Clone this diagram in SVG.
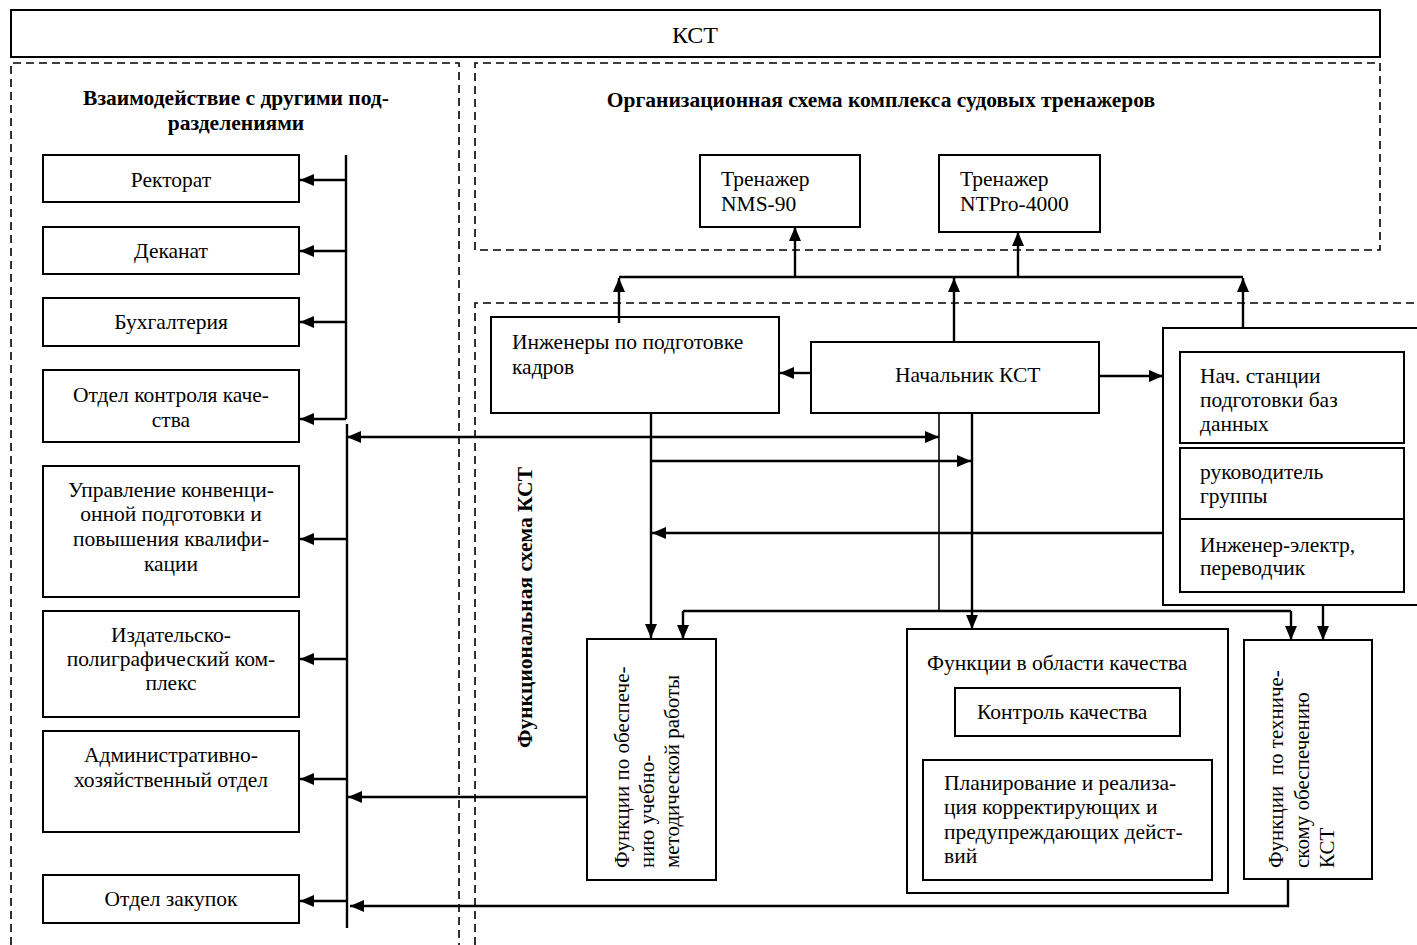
<svg xmlns="http://www.w3.org/2000/svg" width="1417" height="945" viewBox="0 0 1417 945">
<style>
.bx{fill:#fff;stroke:#000;stroke-width:2}
.dsh{fill:none;stroke:#000;stroke-width:1.6;stroke-dasharray:8,5}
.t{font-family:"Liberation Serif","Times New Roman",serif;font-size:21.5px;fill:#000}
.r{font-size:21px}
.c{text-anchor:middle}
.b{font-weight:bold}
.ln{fill:none;stroke:#000;stroke-width:2.4}
.thin{fill:none;stroke:#000;stroke-width:1.6}
.a{marker-end:url(#ah)}
</style>
<defs>
<marker id="ah" viewBox="0 0 14 12" refX="14" refY="6" markerWidth="14" markerHeight="12" markerUnits="userSpaceOnUse" orient="auto-start-reverse">
<path d="M0,0 L14,6 L0,12 z" fill="#000"/>
</marker>
</defs>
<rect width="1417" height="945" fill="#fff"/>

<g id="frames">
<path class="dsh" d="M11,945 V63 H459 V945"/>
<path class="dsh" d="M475,250 V63 H1380 V250 H475"/>
<path class="dsh" d="M475,945 V303 H1417"/>
</g>

<g id="kst-title">
<rect class="bx" x="11" y="10" width="1369" height="47"/>
<text class="t c" x="695" y="43" style="font-size:24px">КСТ</text>
</g>

<g id="left-title">
<text class="t c b" x="236" y="105">Взаимодействие с другими под-</text>
<text class="t c b" x="236" y="130">разделениями</text>
</g>
<g id="org-title">
<text class="t c b" x="881" y="107">Организационная схема комплекса судовых тренажеров</text>
</g>
<g id="func-title">
<text class="t b" transform="translate(532,748) rotate(-90)">Функциональная схема КСТ</text>
</g>

<g id="rektorat"><rect class="bx" x="43" y="155" width="256" height="47"/><text class="t c" x="171" y="187">Ректорат</text></g>
<g id="dekanat"><rect class="bx" x="43" y="227" width="256" height="47"/><text class="t c" x="171" y="258">Деканат</text></g>
<g id="buh"><rect class="bx" x="43" y="298" width="256" height="48"/><text class="t c" x="171" y="329">Бухгалтерия</text></g>
<g id="okk"><rect class="bx" x="43" y="370" width="256" height="72"/><text class="t c" x="171" y="402">Отдел контроля каче-</text><text class="t c" x="171" y="427">ства</text></g>
<g id="ukp"><rect class="bx" x="43" y="466" width="256" height="131"/>
<text class="t c" x="171" y="497">Управление конвенци-</text><text class="t c" x="171" y="521">онной подготовки и</text><text class="t c" x="171" y="546">повышения квалифи-</text><text class="t c" x="171" y="571">кации</text></g>
<g id="ipk"><rect class="bx" x="43" y="611" width="256" height="106"/>
<text class="t c" x="171" y="642">Издательско-</text><text class="t c" x="171" y="666">полиграфический ком-</text><text class="t c" x="171" y="690">плекс</text></g>
<g id="aho"><rect class="bx" x="43" y="731" width="256" height="101"/>
<text class="t c" x="171" y="762">Административно-</text><text class="t c" x="171" y="787">хозяйственный отдел</text></g>
<g id="zakupki"><rect class="bx" x="43" y="875" width="256" height="48"/><text class="t c" x="171" y="906">Отдел закупок</text></g>

<g id="nms90"><rect class="bx" x="700" y="155" width="160" height="72"/>
<text class="t" x="721" y="186">Тренажер</text><text class="t" x="721" y="211">NMS-90</text></g>
<g id="ntpro"><rect class="bx" x="939" y="155" width="161" height="77"/>
<text class="t" x="960" y="186">Тренажер</text><text class="t" x="960" y="211">NTPro-4000</text></g>

<g id="ingenery"><rect class="bx" x="491" y="317" width="288" height="96"/>
<text class="t" x="512" y="349">Инженеры по подготовке</text><text class="t" x="512" y="374">кадров</text></g>
<g id="nachalnik"><rect class="bx" x="811" y="342" width="288" height="71"/>
<text class="t" x="895" y="382">Начальник КСТ</text></g>

<g id="right-group"><rect class="bx" x="1163" y="328" width="260" height="277"/>
<rect class="bx" x="1180" y="352" width="224" height="91"/>
<text class="t" x="1200" y="383">Нач. станции</text><text class="t" x="1200" y="407">подготовки баз</text><text class="t" x="1200" y="431">данных</text>
<rect class="bx" x="1180" y="448" width="224" height="71"/>
<text class="t" x="1200" y="479">руководитель</text><text class="t" x="1200" y="503">группы</text>
<rect class="bx" x="1180" y="519" width="224" height="73"/>
<text class="t" x="1200" y="552">Инженер-электр,</text><text class="t" x="1200" y="575">переводчик</text>
</g>

<g id="umr"><rect class="bx" x="587" y="639" width="129" height="241"/>
<text class="t r" transform="translate(629,868) rotate(-90)">Функции по обеспече-</text>
<text class="t r" transform="translate(654,868) rotate(-90)">нию учебно-</text>
<text class="t r" transform="translate(679,868) rotate(-90)">методической работы</text></g>

<g id="quality"><rect class="bx" x="907" y="629" width="321" height="264"/>
<text class="t" x="927" y="670">Функции в области качества</text>
<rect class="bx" x="955" y="688" width="225" height="48"/>
<text class="t" x="977" y="719">Контроль качества</text>
<rect class="bx" x="923" y="760" width="289" height="120"/>
<text class="t" x="944" y="790">Планирование и реализа-</text><text class="t" x="944" y="814">ция корректирующих и</text><text class="t" x="944" y="839">предупреждающих дейст-</text><text class="t" x="944" y="863">вий</text>
</g>

<g id="tech"><rect class="bx" x="1244" y="640" width="128" height="239"/>
<text class="t r" transform="translate(1283,868) rotate(-90)" xml:space="preserve">Функции  по техниче-</text>
<text class="t r" transform="translate(1309,868) rotate(-90)">скому обеспечению</text>
<text class="t r" transform="translate(1334,868) rotate(-90)">КСТ</text></g>

<g id="connectors">
<path class="ln" d="M346,155 V419"/>
<path class="ln a" d="M346,180 H300"/>
<path class="ln a" d="M346,251 H300"/>
<path class="ln a" d="M346,322 H300"/>
<path class="ln a" d="M346,419 H300"/>
<path class="ln" d="M347,424 V928"/>
<path class="ln a" d="M347,539 H300"/>
<path class="ln a" d="M347,659 H300"/>
<path class="ln a" d="M347,779 H300"/>
<path class="ln a" d="M347,901 H300"/>
<path class="ln a" d="M347,437 H939" style="marker-start:url(#ah)"/>
<path class="ln a" d="M587,797 H348"/>
<path class="ln a" d="M1288,879 V906 H350"/>

<path class="ln" d="M619,277 H1243"/>
<path class="ln a" d="M619,323 V278"/>
<path class="ln a" d="M954,342 V278"/>
<path class="ln a" d="M1243,328 V278"/>
<path class="ln a" d="M795,277 V227"/>
<path class="ln a" d="M1018,277 V232"/>

<path class="ln a" d="M811,373 H780"/>
<path class="ln a" d="M1099,376 H1163"/>
<path class="ln a" d="M651,413 V638"/>
<path class="ln a" d="M651,461 H971"/>
<path class="ln a" d="M1163,533 H652"/>
<path class="thin" d="M939,413 V611"/>
<path class="ln a" d="M972,413 V629"/>
<path class="ln" d="M683,611 H1291"/>
<path class="ln a" d="M683,611 V639"/>
<path class="ln a" d="M1291,611 V640"/>
<path class="ln a" d="M1323,605 V640"/>
</g>
</svg>
